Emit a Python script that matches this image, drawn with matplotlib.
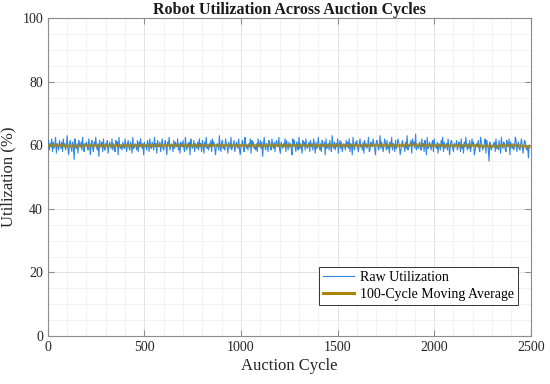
import numpy as np
import pandas as pd
import matplotlib
matplotlib.use("Agg")
import matplotlib.pyplot as plt
from matplotlib.ticker import MultipleLocator

# raw utilization, one sample every 4 auction cycles, coded A=55.0 ... S=64.0 in 0.5 steps
RAW_CODES = (
    "KNHLJOGMIKPFLJHNKIMGOJLHKQIELNJGMKBOJILFNKJMHPIG"
    "LKMJHOKELNIGMKPJHLDNJKMGOIHLKNFJMKIOHLJGNKMEPJIK"
    "HMJIOKGLNJHMKFPIJLKHNGMJOKILEMJKHNLGOJIMKHPJLFNK"
    "JMGKOIHLNJEMKPHJLKGNIMKJOHLFMKJNIGPKHLJMEOKIJNGL"
    "KIMHOJLGNKFMJPIKHLJNGOKMIEJLKHQJGMNIKHOLJFMKIPHJ"
    "LNGJMKIOHEKLNJGPMIKHLJOFNKMIJHLGOKJNIMDKPJHLKGNM"
    "JHOKIMGLNKJPHFMKILJOGNKHMJLIEOKNJGMKHPILJFNKMHOJ"
    "IKMGNJLHOKFMIJPKHLGNKJMEOIKLHNJGQKIMHLJOFKNIMGJL"
    "KHNJMIOGLKEPJHMKNIGLOJKHMFNJLIKPGHMKJOLIEMNKHJQI"
    "MJGKOLHNIKFMJPHLKGNIJOMKEHLNJKGMIQHKJLNFOKMIRHJK"
    "IMKHOJLGNKEPIJMKHLNGOKJIMFLKHNJPGMIKLHOJEKNMIGLJ"
    "KNHJMLGOIKFMJPKHLINGJOKMEHKLJNIGPMKHJLOFNKIAMJHK"
    "JLMGOIKHNJFPKIMLHGNKJOEMKILHJPNGKMIHLOJFKNMIHJCK"
)
CYCLE_STEP = 4
MA_WINDOW = 100

utilization = np.array([55.0 + 0.5 * (ord(c) - ord("A")) for c in RAW_CODES])
cycles = np.arange(len(utilization)) * CYCLE_STEP
moving_avg = (pd.Series(utilization)
              .rolling(MA_WINDOW // CYCLE_STEP, center=True, min_periods=1)
              .mean().to_numpy())

plt.rcParams["font.family"] = ["Liberation Serif", "DejaVu Serif"]
fig = plt.figure(figsize=(5.5, 3.84), dpi=100)
ax = fig.add_axes([0.087, 0.125, 0.878, 0.828])

ax.plot(cycles, utilization, color="#2f86e6", lw=0.8, label="Raw Utilization", zorder=3)
ax.plot(cycles, moving_avg, color="#a8860c", lw=2.2, alpha=0.75,
        label="100-Cycle Moving Average", zorder=4)

ax.set_xlim(0, 2500)
ax.set_ylim(0, 100)
ax.xaxis.set_major_locator(MultipleLocator(500))
ax.xaxis.set_minor_locator(MultipleLocator(100))
ax.yaxis.set_major_locator(MultipleLocator(20))
ax.yaxis.set_minor_locator(MultipleLocator(5))
ax.grid(which="major", color="#e3e3e3", lw=0.7)
ax.grid(which="minor", color="#f0f0f0", lw=0.6)
ax.set_axisbelow(True)
ax.tick_params(which="both", direction="in", top=True, right=True, color="#8c8c8c",
               labelsize=10, labelcolor="#262626")
ax.tick_params(which="major", length=4)
ax.tick_params(which="minor", length=0)
for s in ax.spines.values():
    s.set_color("#8c8c8c")
    s.set_linewidth(0.8)

ax.set_xlabel("Auction Cycle", fontsize=12, color="#262626", labelpad=3)
ax.set_ylabel("Utilization (%)", fontsize=12, color="#262626", labelpad=4)
ax.set_title("Robot Utilization Across Auction Cycles", fontsize=11.5,
             fontweight="bold", color="#1a1a1a", pad=3)

leg = ax.legend(loc="lower right", bbox_to_anchor=(0.973, 0.097), borderaxespad=0,
                fontsize=10, fancybox=False, framealpha=1, edgecolor="#333333",
                handlelength=2.2, borderpad=0.3, labelspacing=0.3, handletextpad=0.4)
leg.get_frame().set_linewidth(0.7)
for h in leg.get_lines():
    h.set_alpha(1)

fig.savefig("out.png", dpi=100)
